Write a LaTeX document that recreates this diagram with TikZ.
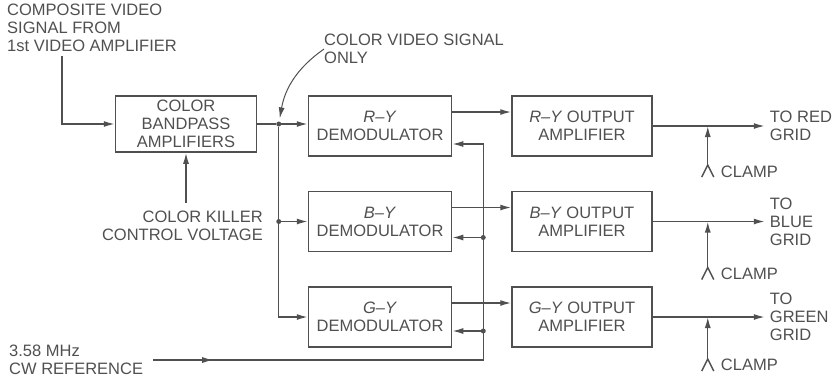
\documentclass[tikz,border=0pt]{standalone}
\usepackage{fontspec}
\setmainfont{Liberation Sans}
\usetikzlibrary{positioning}
\usetikzlibrary{arrows.meta}
\usetikzlibrary{decorations.markings}
\definecolor{ink}{RGB}{80,80,80}

\begin{document}
\begin{tikzpicture}[
    x=1pt, y=-1pt,
    node distance=34pt, % Vertical gap between the demodulators
    every node/.style={
        text=ink,
        font=\fontsize{16.5}{18}\selectfont
    },
    box/.style={
        draw=ink,
        line width=1.5pt,
        rectangle,
        align=center,
        minimum width=143pt,
        minimum height=60pt,
        inner sep=2pt
    },
    note/.style={
        align=left,
        inner sep=0pt
    },
    wire/.style={
        draw=ink,
        line width=1.4pt
    },
    arrow/.style={
        wire,
        -{Latex[length=11pt,width=6pt]}
    },
    dot/.style={
        circle,
        fill=ink,
        inner sep=0pt,
        minimum size=5pt
    }
]
    \useasboundingbox (0,0) rectangle (835,381);

    % --- Input side ---
    \node[note, anchor=north west] (comp) at (7,4) {COMPOSITE VIDEO\\SIGNAL FROM\\1st VIDEO AMPLIFIER};
    \node[box, minimum width=141pt, minimum height=56pt] (bp) at (186,124) {COLOR\\BANDPASS\\AMPLIFIERS};
    \node[note, align=right, anchor=north east] (killer) at (263,211) {COLOR KILLER\\CONTROL VOLTAGE};
    \node[note, anchor=north west] (cvs) at (324,34) {COLOR VIDEO SIGNAL\\ONLY};
    \node[note, anchor=north west] (cw) at (9,345) {3.58 MHz\\CW REFERENCE};

    % --- Demodulators stacked, output amplifiers to their right ---
    \node[box] (rdem) at (380,126) {\textit{R--Y}\\DEMODULATOR};
    \node[box, below=of rdem] (bdem) {\textit{B--Y}\\DEMODULATOR};
    \node[box, below=of bdem] (gdem) {\textit{G--Y}\\DEMODULATOR};
    \node[box, minimum width=140pt, right=59pt of rdem] (ramp) {\textit{R--Y} OUTPUT\\AMPLIFIER};
    \node[box, minimum width=140pt, right=59pt of bdem] (bamp) {\textit{B--Y} OUTPUT\\AMPLIFIER};
    \node[box, minimum width=140pt, right=59pt of gdem] (gamp) {\textit{G--Y} OUTPUT\\AMPLIFIER};

    % --- Grid outputs ---
    \node[note, anchor=west] (red) at ([xshift=117pt]ramp.east) {TO RED\\GRID};
    \node[note, anchor=west] (blue) at ([xshift=117pt]bamp.east) {TO\\BLUE\\GRID};
    \node[note, anchor=west] (green) at ([xshift=117pt]gamp.east) {TO\\GREEN\\GRID};

    % --- Clamp inputs ---
    \coordinate (rcl) at ([xshift=55pt,yshift=-39pt]ramp.east);
    \coordinate (bcl) at ([xshift=55pt,yshift=-46pt]bamp.east);
    \coordinate (gcl) at ([xshift=55pt,yshift=-42pt]gamp.east);
    \node[note, anchor=west] (rclamp) at ([xshift=13pt,yshift=-7pt]rcl) {CLAMP};
    \node[note, anchor=west] (bclamp) at ([xshift=13pt,yshift=-6pt]bcl) {CLAMP};
    \node[note, anchor=west] (gclamp) at ([xshift=13pt,yshift=-6pt]gcl) {CLAMP};

    % --- Junctions ---
    \coordinate (jx) at ([xshift=-29pt]rdem.west);
    \node[dot] (jr) at (jx |- bp.east) {};
    \node[dot] (jb) at (jx |- bdem.west) {};
    \coordinate (jg) at (jx |- gdem.west);
    \coordinate (fbr) at ([xshift=31pt,yshift=-18pt]rdem.east);
    \coordinate (bfb) at ([yshift=-16pt]bdem.east);
    \coordinate (gfb) at ([yshift=-14pt]gdem.east);
    \node[dot] (fbb) at (bfb -| fbr) {};
    \node[dot] (fbg) at (gfb -| fbr) {};

    % --- Signal path ---
    \draw[arrow] ([xshift=55pt,yshift=-4pt]comp.south west) |- (bp.west);
    \draw[arrow] ([yshift=8pt]killer.north -| bp.south) -- (bp.south);
    \draw[wire] (bp.east) -- (jr);
    \draw[arrow, line width=1pt, shorten >=3pt] (cvs.west) to[out=215,in=80] (jr);
    \draw[arrow] (jr) -- (jr -| rdem.west);
    \draw[wire] (jr) -- (jb);
    \draw[arrow] (jb) -- (bdem.west);
    \draw[arrow] (jb) -- (jg) -- (gdem.west);

    % --- CW reference to all three demodulators ---
    \draw[arrow, postaction={decorate, decoration={markings,
        mark=at position 60pt with {\arrow{Latex[length=11pt,width=6pt]}}}}]
        ([xshift=10pt]cw.east) -| (fbr) -- (fbr -| rdem.east);
    \draw[arrow] (fbb) -- (bfb);
    \draw[arrow] (fbg) -- (gfb);

    % --- Demodulator to output amplifier ---
    \draw[arrow] ([yshift=14pt]rdem.east) -- ([yshift=14pt]ramp.west);
    \draw[arrow] ([yshift=14pt]bdem.east) -- ([yshift=14pt]bamp.west);
    \draw[arrow] ([yshift=14pt]gdem.east) -- ([yshift=14pt]gamp.west);

    % --- Outputs to the grids ---
    \draw[arrow, shorten >=5pt] (ramp.east) -- (red.west);
    \draw[arrow, shorten >=5pt] (bamp.east) -- (blue.west);
    \draw[arrow, shorten >=5pt] (gamp.east) -- (green.west);

    % --- Clamp pulses ---
    \draw[arrow] (rcl) -- (rcl |- ramp.east);
    \draw[arrow] (bcl) -- (bcl |- bamp.east);
    \draw[arrow] (gcl) -- (gcl |- gamp.east);
    \draw[wire] ([xshift=-6pt,yshift=-12pt]rcl) -- (rcl) -- ([xshift=6pt,yshift=-12pt]rcl);
    \draw[wire] ([xshift=-6pt,yshift=-12pt]bcl) -- (bcl) -- ([xshift=6pt,yshift=-12pt]bcl);
    \draw[wire] ([xshift=-6pt,yshift=-12pt]gcl) -- (gcl) -- ([xshift=6pt,yshift=-12pt]gcl);
\end{tikzpicture}
\end{document}
